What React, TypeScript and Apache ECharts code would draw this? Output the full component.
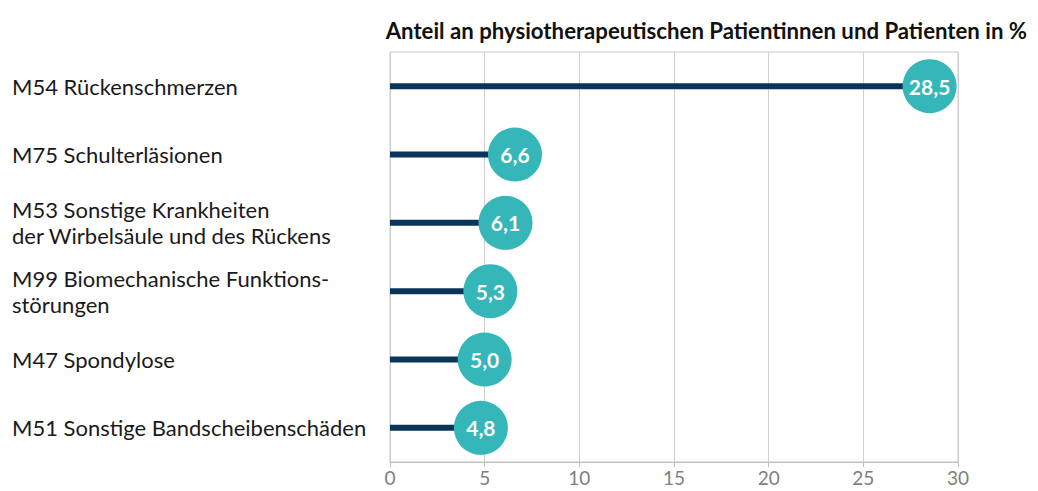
import React, { useEffect, useRef } from "react";
import * as echarts from "echarts";

const categories = [
  "M54 Rückenschmerzen",
  "M75 Schulterläsionen",
  "M53 Sonstige Krankheiten\nder Wirbelsäule und des Rückens",
  "M99 Biomechanische Funktions-\nstörungen",
  "M47 Spondylose",
  "M51 Sonstige Bandscheibenschäden",
];
const values = [28.5, 6.6, 6.1, 5.3, 5.0, 4.8];
const titleText = "Anteil an physiotherapeutischen Patientinnen und Patienten in %";

const FONT = "Lato, 'Open Sans', sans-serif";

export default function App() {
  const ref = useRef<HTMLDivElement>(null);
  useEffect(() => {
    document.body.style.margin = "0";
    const chart = echarts.init(ref.current!, null, { renderer: "svg" });
    chart.setOption({
      animation: false,
      textStyle: { fontFamily: FONT },
      title: {
        text: titleText,
        right: 6,
        top: 14,
        textStyle: { fontFamily: FONT, fontSize: 22.2, fontWeight: "bold", color: "#111" },
      },
      grid: {
        left: 390,
        right: 80,
        top: 52,
        bottom: 29,
        show: true,
        borderColor: "#c8c8c8",
        borderWidth: 1,
      },
      xAxis: {
        type: "value",
        min: 0,
        max: 30,
        interval: 5,
        axisLine: { show: true, lineStyle: { color: "#c0c0c0" } },
        axisTick: { show: true, length: 5, lineStyle: { color: "#c0c0c0" } },
        splitLine: { show: true, lineStyle: { color: "#cfcfcf" } },
        axisLabel: { color: "#808080", fontSize: 19, margin: 6, fontFamily: FONT },
      },
      yAxis: {
        type: "category",
        inverse: true,
        data: categories,
        axisLine: { show: false },
        axisTick: { show: false },
        axisLabel: {
          align: "left",
          margin: 378,
          color: "#1a1a1a",
          fontSize: 22,
          lineHeight: 26,
          fontFamily: FONT,
        },
      },
      series: [
        {
          type: "bar",
          data: values,
          barWidth: 6,
          itemStyle: { color: "#0b3558" },
          z: 2,
        },
        {
          type: "scatter",
          data: values,
          symbol: "circle",
          symbolSize: 54,
          itemStyle: { color: "#35b6b9", opacity: 1 },
          label: {
            show: true,
            position: "inside",
            color: "#fff",
            fontWeight: "bold",
            fontSize: 21,
            fontFamily: FONT,
            formatter: (p: any) => String(p.value.toFixed(1)).replace(".", ","),
          },
          z: 3,
        },
      ],
    });
    return () => chart.dispose();
  }, []);
  return <div ref={ref} style={{ width: 1038, height: 491 }} />;
}
